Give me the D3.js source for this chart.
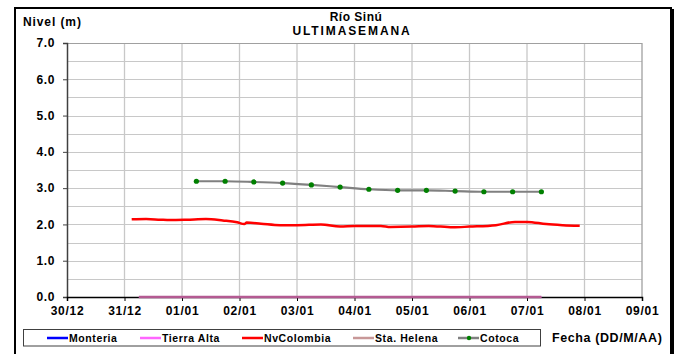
<!DOCTYPE html>
<html><head><meta charset="utf-8">
<script src="https://cdn.jsdelivr.net/npm/d3@7"></script>
<style>
html,body{margin:0;padding:0;background:#fff;}
svg{display:block;}
text{font-family:"Liberation Sans",Arial,sans-serif;font-weight:bold;fill:#000;}
</style></head>
<body><svg id="c" width="679" height="354"></svg>
<script>
// ---- data ----
const xTickLabels = ["30/12","31/12","01/01","02/01","03/01","04/01","05/01","06/01","07/01","08/01","09/01"];
const yTicks = [0,1,2,3,4,5,6,7];

const nvColombiaTimes = ["2010-12-31 03:00","2010-12-31 09:00","2010-12-31 15:00","2010-12-31 19:00",
 "2011-01-01 02:00","2011-01-01 10:00","2011-01-01 17:00","2011-01-01 23:00",
 "2011-01-02 02:00","2011-01-02 03:00","2011-01-02 09:00","2011-01-02 17:00",
 "2011-01-03 00:00","2011-01-03 10:00","2011-01-03 18:00",
 "2011-01-04 00:00","2011-01-04 11:00","2011-01-04 15:00",
 "2011-01-05 00:00","2011-01-05 07:00","2011-01-05 17:00",
 "2011-01-06 00:00","2011-01-06 11:00","2011-01-06 19:00",
 "2011-01-07 00:00","2011-01-07 08:00","2011-01-07 15:00","2011-01-07 22:00"];
const nvColombiaValues = [2.14,2.15,2.13,2.12, 2.13,2.15,2.11,2.06, 2.01,2.05,2.02,1.98,
 1.98,2.00,1.94, 1.96,1.96,1.93, 1.94,1.96,1.92, 1.94,1.98,2.07, 2.07,2.01,1.98,1.96];

const cotocaTimes = ["2011-01-01 06:00","2011-01-01 18:00","2011-01-02 06:00","2011-01-02 18:00",
 "2011-01-03 06:00","2011-01-03 18:00","2011-01-04 06:00","2011-01-04 18:00",
 "2011-01-05 06:00","2011-01-05 18:00","2011-01-06 06:00","2011-01-06 18:00","2011-01-07 06:00"];
const cotocaValues = [3.19,3.19,3.17,3.14,3.09,3.03,2.97,2.94,2.94,2.92,2.90,2.90,2.90];

const zeroTimes = ["2010-12-31 06:00","2011-01-07 06:00"];
const tierraAltaValues = [0,0];
const staHelenaValues = [0,0];

const legendNames = ["Monteria","Tierra Alta","NvColombia","Sta. Helena","Cotoca"];
const legendColors = ["#0000ff","#ff66ff","#ff0000","#c89898","#808080"];

// ---- chart ----
const parse = d3.timeParse("%Y-%m-%d %H:%M");
const svg = d3.select("#c");
const L=67, R=642, T=43, B=297;
const x = d3.scaleTime().domain([parse("2010-12-30 00:00"), parse("2011-01-09 00:00")]).range([L,R]);
const y = d3.scaleLinear().domain([0,7]).range([B,T]);

// outer frame
svg.append("rect").attr("x",15).attr("y",8).attr("width",656).attr("height",360)
  .attr("fill","#fff").attr("stroke","#000").attr("stroke-width",2);
svg.append("line").attr("x1",672.5).attr("x2",672.5).attr("y1",9).attr("y2",354)
  .attr("stroke","#000").attr("stroke-width",3);

// grid
const g = svg.append("g");
d3.range(0.5,7,0.5).forEach(v=>{
  g.append("line").attr("x1",L).attr("x2",R).attr("y1",Math.round(y(v))+0.5).attr("y2",Math.round(y(v))+0.5)
   .attr("stroke","#c8c8c8").attr("stroke-width",1);
});
const days = d3.timeDay.range(x.domain()[0], d3.timeDay.offset(x.domain()[1],1));
days.forEach((d,i)=>{
  if(i===0) return;
  g.append("line").attr("x1",x(d)).attr("x2",x(d)).attr("y1",T).attr("y2",B)
   .attr("stroke", i===days.length-1 ? "#a0a0a0" : "#c8c8c8").attr("stroke-width",1.3);
});
g.append("line").attr("x1",L).attr("x2",R).attr("y1",T+0.5).attr("y2",T+0.5).attr("stroke","#a0a0a0");

// axes
const yAxis = d3.axisLeft(y).tickValues(yTicks).tickFormat(d3.format(".1f")).tickSize(4).tickPadding(8);
const ya = svg.append("g").attr("transform",`translate(${L},0)`).call(yAxis);
ya.select(".domain").attr("stroke","#404040").attr("stroke-width",1.5);
ya.selectAll(".tick line").attr("stroke","#404040");
ya.selectAll("text").style("font-size","12px").style("letter-spacing","0.6px").attr("fill","#000").style("font-family","'Liberation Sans',Arial,sans-serif");

const xAxis = d3.axisBottom(x).ticks(d3.timeDay.every(1)).tickFormat((d,i)=>xTickLabels[i]).tickSize(4).tickPadding(5);
const xa = svg.append("g").attr("transform",`translate(0,${B})`).call(xAxis);
xa.select(".domain").attr("stroke","#000").attr("stroke-width",1.5);
xa.selectAll(".tick line").attr("stroke","#000");
xa.selectAll("text").style("font-size","12px").style("letter-spacing","0.7px").attr("fill","#000").style("font-family","'Liberation Sans',Arial,sans-serif");

// series
const line = d3.line().x(d=>x(d.t)).y(d=>y(d.v)).curve(d3.curveMonotoneX);
const nv = nvColombiaTimes.map((t,i)=>({t:parse(t),v:nvColombiaValues[i]}));
const co = cotocaTimes.map((t,i)=>({t:parse(t),v:cotocaValues[i]}));
const ta = zeroTimes.map((t,i)=>({t:parse(t),v:tierraAltaValues[i]}));
const sh = zeroTimes.map((t,i)=>({t:parse(t),v:staHelenaValues[i]}));

svg.append("path").datum(ta).attr("d",line).attr("fill","none").attr("stroke","#ff66ff").attr("stroke-width",1.5);
svg.append("path").datum(sh).attr("d",line).attr("fill","none").attr("stroke","#b45a92").attr("stroke-width",2.6);
svg.append("path").datum(nv).attr("d",line).attr("fill","none").attr("stroke","#ff0000").attr("stroke-width",2.5);
svg.append("path").datum(co).attr("d",line).attr("fill","none").attr("stroke","#808080").attr("stroke-width",2.2);
svg.selectAll("circle.co").data(co).enter().append("circle").attr("class","co")
  .attr("cx",d=>x(d.t)).attr("cy",d=>y(d.v)).attr("r",2.6).attr("fill","#008000");

// titles
svg.append("text").attr("x",23).attr("y",26).style("font-size","12px").style("letter-spacing","0.9px").text("Nivel (m)");
svg.append("text").attr("x",356).attr("y",21).attr("text-anchor","middle").style("font-size","12px").style("letter-spacing","0.5px").text("Río Sinú");
svg.append("text").attr("x",352).attr("y",35).attr("text-anchor","middle").style("font-size","12px").style("letter-spacing","1.9px").text("ULTIMASEMANA");

// legend
svg.append("rect").attr("x",23.5).attr("y",329.5).attr("width",517).attr("height",16.5)
  .attr("fill","#fff").attr("stroke","#404040").attr("stroke-width",1);
const legX = [47,140,242,353,458];
legendNames.forEach((n,i)=>{
  svg.append("line").attr("x1",legX[i]).attr("x2",legX[i]+21).attr("y1",338).attr("y2",338)
    .attr("stroke",legendColors[i]).attr("stroke-width",2.5);
  if(i===4) svg.append("circle").attr("cx",legX[i]+11).attr("cy",338).attr("r",2.2).attr("fill","#008000");
  svg.append("text").attr("x",legX[i]+22).attr("y",342).style("font-size","10.5px").style("letter-spacing","0.6px").text(n);
});
svg.append("text").attr("x",552).attr("y",342).style("font-size","12.5px").style("letter-spacing","0.6px").text("Fecha (DD/M/AA)");
</script></body></html>
